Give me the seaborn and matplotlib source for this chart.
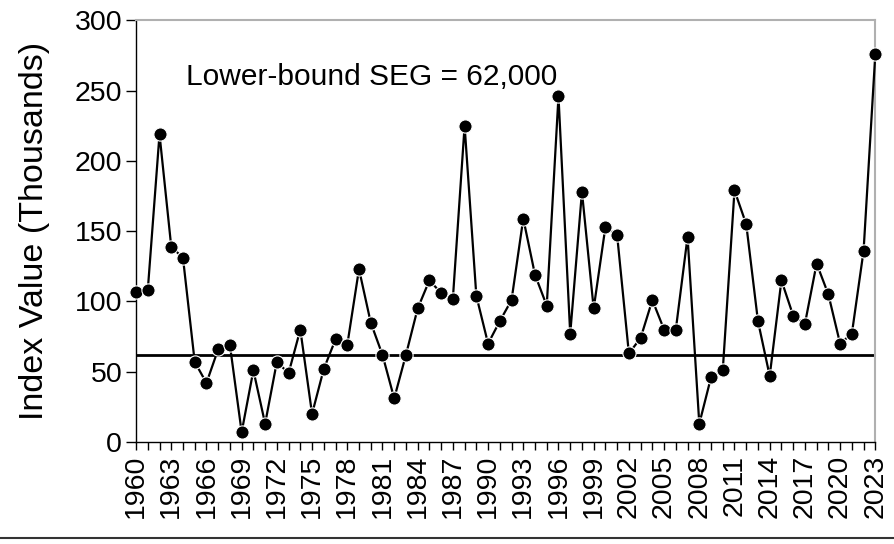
import matplotlib.pyplot as plt
import seaborn as sns
import pandas as pd
from matplotlib.lines import Line2D

years = list(range(1960, 2024))
index_values = [
    107, 108, 219, 139, 131, 57, 42, 66, 69, 7,
    51, 13, 57, 49, 80, 20, 52, 73, 69, 123,
    85, 62, 31, 62, 95, 115, 106, 102, 225, 104,
    70, 86, 101, 159, 119, 97, 246, 77, 178, 95,
    153, 147, 63, 74, 101, 80, 80, 146, 13, 46,
    51, 179, 155, 86, 47, 115, 90, 84, 127, 105,
    70, 77, 136, 276,
]
seg_lower = 62
label_years = years[::3]

df = pd.DataFrame({"year": years, "value": index_values})

sns.set_theme(style="white")
plt.rcParams["font.family"] = ["Liberation Sans", "DejaVu Sans"]
plt.rcParams["text.color"] = "black"
plt.rcParams["axes.labelcolor"] = "black"
plt.rcParams["xtick.color"] = "black"
plt.rcParams["ytick.color"] = "black"

fig = plt.figure(figsize=(8.95, 5.44), dpi=100)
ax = fig.add_axes([0.152, 0.1875, 0.826, 0.775])

sns.lineplot(data=df, x="year", y="value", ax=ax, color="black", linewidth=1.6,
             marker="o", markersize=9.5, markerfacecolor="black",
             markeredgecolor="white", markeredgewidth=0.8, clip_on=False, zorder=3)
ax.axhline(seg_lower, color="black", linewidth=2, zorder=2)

ax.text(1964.3, 260, "Lower-bound SEG = 62,000", fontsize=21.5, ha="left", va="center")

ax.set_xlim(1960, 2023)
ax.set_ylim(0, 300)
ax.set_xticks(years, minor=True)
ax.set_xticks(label_years)
ax.set_xticklabels([str(y) for y in label_years], rotation=90, fontsize=20.5)
ax.set_yticks([0, 50, 100, 150, 200, 250, 300])
ax.tick_params(axis="y", labelsize=20.5, length=7, width=1, pad=3, direction="out", left=True)
ax.tick_params(axis="x", which="both", length=6, width=1, pad=3, direction="out", bottom=True)
ax.set_xlabel("")
ax.set_ylabel("Index Value (Thousands)", fontsize=24.5, labelpad=18)

for side in ["left", "bottom"]:
    ax.spines[side].set_color("black")
    ax.spines[side].set_linewidth(1)
for side in ["top", "right"]:
    ax.spines[side].set_color("#b0b0b0")
    ax.spines[side].set_linewidth(1.5)

fig.add_artist(Line2D([0, 1], [0.011, 0.011], color="#333333", linewidth=1.5))

fig.savefig("out.png", dpi=100)
